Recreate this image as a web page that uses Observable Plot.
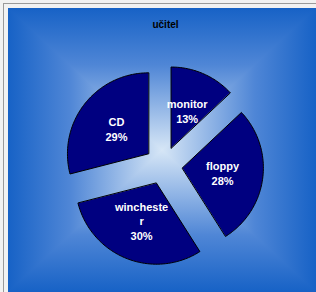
<!DOCTYPE html>
<html>
<head>
<meta charset="utf-8">
<script src="https://cdn.jsdelivr.net/npm/d3@7"></script>
<script src="https://cdn.jsdelivr.net/npm/@observablehq/plot@0.6"></script>
<style>
  html, body { margin: 0; padding: 0; background: #f2f2f2; width: 316px; height: 292px; overflow: hidden; }
  #frame { position: absolute; left: 3px; top: 3px; width: 313px; height: 289px; border-left: 1px solid #9a9a9a; border-top: 1px solid #9a9a9a; }
  #bg { position: absolute; left: 8px; top: 8px; width: 308px; height: 284px;
        background: linear-gradient(to bottom, #1762c6 0%, #4f86d6 20%, #d6e6f6 50%, #4f86d6 80%, #1762c6 100%); }
  #bg div { position: absolute; inset: 0;
        clip-path: polygon(0 0, 50% 50%, 100% 0, 100% 100%, 50% 50%, 0 100%);
        background: linear-gradient(to right, #1762c6 0%, #4f86d6 20%, #d6e6f6 50%, #4f86d6 80%, #1762c6 100%); }
  #chart { position: absolute; left: 0; top: 0; }
</style>
</head>
<body>
<div id="frame"></div>
<div id="bg"><div></div></div>
<div id="chart"></div>
<script>
const title = "učitel";
const categories = ["monitor", "floppy", "winchester", "CD"];
const labels = ["monitor", "floppy", "wincheste\nr", "CD"];
const values = [13, 28, 30, 29];

const total = d3.sum(values);
const explode = 0.235;
const pts = [];
const labelData = [];
let acc = 0;
values.forEach((v, i) => {
  const a0 = acc / total * 2 * Math.PI;
  const a1 = (acc + v) / total * 2 * Math.PI;
  acc += v;
  const mid = (a0 + a1) / 2;
  const ox = explode * Math.sin(mid), oy = explode * Math.cos(mid);
  pts.push({cat: categories[i], x: ox, y: oy});
  const n = Math.max(2, Math.ceil((a1 - a0) / 0.02));
  for (let k = 0; k <= n; k++) {
    const a = a0 + (a1 - a0) * k / n;
    pts.push({cat: categories[i], x: ox + Math.sin(a), y: oy + Math.cos(a)});
  }
  const lr = explode + 0.5;
  labelData.push({text: labels[i] + "\n" + Math.round(v / total * 100) + "%", x: lr * Math.sin(mid), y: lr * Math.cos(mid)});
});

const cx = 163, cy = 165, r = 81;
const chart = Plot.plot({
  width: 316,
  height: 292,
  margin: 0,
  style: {background: "transparent", overflow: "visible"},
  x: {domain: [-1, 1], range: [cx - r, cx + r], axis: null},
  y: {domain: [-1, 1], range: [cy + r, cy - r], axis: null},
  marks: [
    Plot.line(pts, {x: "x", y: "y", z: "cat", fill: "#000080", stroke: "#000", strokeWidth: 1, curve: "linear-closed"}),
    Plot.text(labelData, {x: "x", y: "y", text: "text", fill: "#fff", fontSize: 11, fontFamily: "Liberation Sans, Arial, sans-serif", lineHeight: 1.3, fontWeight: "bold"}),
    Plot.text([title], {frameAnchor: "top", dx: 7, dy: 20, text: d => d, fill: "#000", fontSize: 10, fontWeight: "bold", fontFamily: "Liberation Sans, Arial, sans-serif"})
  ]
});
document.getElementById("chart").appendChild(chart);
</script>
</body>
</html>
